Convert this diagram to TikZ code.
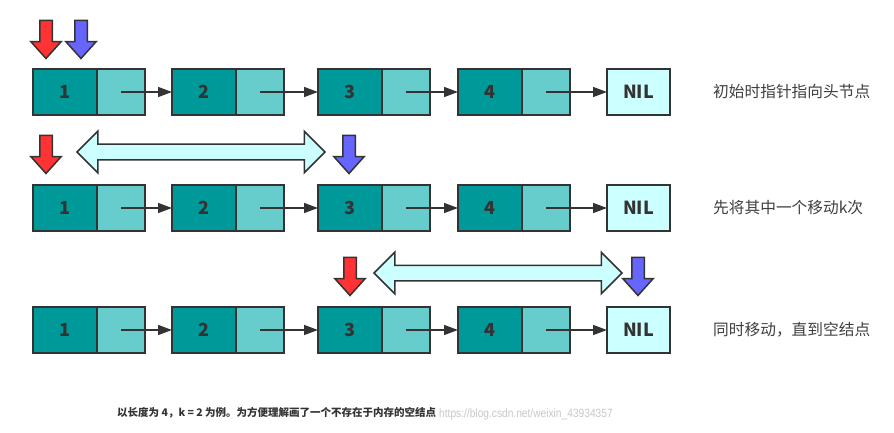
\documentclass[tikz,border=0pt]{standalone}
\usepackage{fontspec}
\setmainfont{Noto Sans CJK SC}
\newfontfamily\wmfont{Liberation Sans}
\usetikzlibrary{shapes.arrows,arrows.meta}
\definecolor{tealA}{HTML}{009999}
\definecolor{tealB}{HTML}{66CCCC}
\definecolor{nilc}{HTML}{CCFFFF}
\definecolor{edgec}{HTML}{333333}
\definecolor{labc}{HTML}{404040}
\definecolor{redp}{HTML}{FF3333}
\definecolor{bluep}{HTML}{6666FF}
\definecolor{wmc}{HTML}{C8C8C8}
\tikzset{
  cell/.style={draw=edgec, line width=1.5pt, minimum height=46pt, inner sep=0pt, outer sep=0pt, anchor=north west, text=edgec, font=\bfseries\fontsize{18}{18}\selectfont},
  databox/.style={cell, fill=tealA, minimum width=64pt},
  ptrbox/.style={cell, fill=tealB, minimum width=48pt},
  nilbox/.style={cell, fill=nilc, minimum width=63pt},
  link/.style={draw=edgec, line width=1.5pt, -{Triangle[length=14pt,width=10pt]}},
  downarrow/.style={single arrow, draw=edgec, line width=1.5pt, rotate=-90, minimum height=38pt, inner sep=5.5pt, outer sep=0pt, single arrow head extend=9pt, single arrow tip angle=84, single arrow head indent=0pt},
  rangearrow/.style={double arrow, draw=edgec, line width=1.5pt, fill=nilc, minimum height=248pt, inner xsep=0pt, inner ysep=7pt, outer sep=0pt, double arrow head extend=13pt, double arrow tip angle=90, double arrow head indent=0pt},
  rowlabel/.style={anchor=west, text=labc, font=\fontsize{15.7}{16}\selectfont, inner sep=0pt}
}
\begin{document}
\begin{tikzpicture}[x=1pt,y=-1pt]
\path[use as bounding box, fill=white] (0,0) rectangle (894,433);
\foreach \r/\y in {1/69,2/185,3/307}{
  \foreach \i/\x in {1/33,2/172,3/318,4/458}{
    \node[databox] (d\r\i) at (\x,\y) {\i};
    \node[ptrbox] (p\r\i) at (d\r\i.north east) {};
  }
  \node[nilbox] (n\r) at (607,\y) {NIL};
  \foreach \i/\j in {1/2,2/3,3/4}{
    \draw[link] (p\r\i.center) -- (d\r\j.west);
  }
  \draw[link] (p\r4.center) -- (n\r.west);
}
\node[rowlabel] (l1) at (713,92) {初始时指针指向头节点};
\node[rowlabel] (l2) at (713,208) {先将其中一个移动k次};
\node[rowlabel] (l3) at (713,330) {同时移动，直到空结点};
% pointers
\node[downarrow, fill=redp] (r1) at (46,36) {};
\node[downarrow, fill=bluep] (b1) at (81,36) {};
\node[downarrow, fill=redp] (r2) at (46,151) {};
\node[downarrow, fill=bluep] (b2) at (349,151) {};
\node[downarrow, fill=redp] (r3) at (350,273) {};
\node[downarrow, fill=bluep] (b3) at (638,273) {};
\node[rangearrow] (k2) at (201,152) {};
\node[rangearrow] (k3) at (498,273) {};
% notes
\node[anchor=west, inner sep=0pt, text=edgec, font=\bfseries\fontsize{10.5}{11}\selectfont] (note) at (117,413) {以长度为 4，k = 2 为例。为方便理解画了一个不存在于内存的空结点};
\node[anchor=west, inner sep=0pt, text=wmc, font=\wmfont\fontsize{12}{12}\selectfont] (wm) at (439,414) {\scalebox{0.85}[1]{https://blog.csdn.net/weixin\_43934357}};
\end{tikzpicture}
\end{document}
